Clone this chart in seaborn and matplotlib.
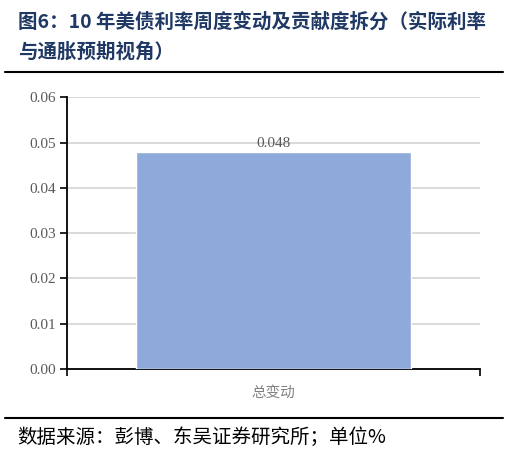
import matplotlib
matplotlib.use("Agg")
import matplotlib.pyplot as plt
import seaborn as sns
import pandas as pd
from matplotlib.lines import Line2D

categories = ["总变动"]
values = [0.048]
value_labels = ["0.048"]
yticks = [0.00, 0.01, 0.02, 0.03, 0.04, 0.05, 0.06]
ytick_labels = ["0.00", "0.01", "0.02", "0.03", "0.04", "0.05", "0.06"]
title_line1 = "图6：10 年美债利率周度变动及贡献度拆分（实际利率"
title_line2 = "与通胀预期视角）"
source_text = "数据来源：彭博、东吴证券研究所；单位%"

sns.set_theme(style="white")
plt.rcParams['font.family'] = ['Noto Sans CJK SC', 'DejaVu Sans']

df = pd.DataFrame({"cat": categories, "val": values})

fig = plt.figure(figsize=(5.10, 4.51), dpi=100)
ax = fig.add_axes([67/510, 1-369/451, (480-67)/510, (369-97.3)/451])

sns.barplot(data=df, x="cat", y="val", color="#8EAADB", width=0.667,
            saturation=1, ax=ax, zorder=3)

ax.set_xlim(-0.5, 0.5)
ax.set_ylim(0, 0.06)
ax.set_yticks(yticks)
ax.set_yticklabels(ytick_labels, family="Liberation Serif", fontsize=11, color="#595959")
ax.yaxis.grid(True, color="#d9d9d9", linewidth=1.4, zorder=0)
ax.set_axisbelow(True)

ax.set_xticks([0])
ax.set_xticklabels(categories, fontsize=10.5, color="#808080")
ax.set_xticks([-0.5, 0.5], minor=True)
ax.tick_params(axis="x", which="major", length=0, pad=12)
ax.tick_params(axis="x", which="minor", length=5, width=1.2, color="black", direction="out", bottom=True)
ax.tick_params(axis="y", which="major", length=5, width=1.2, color="black", direction="out", left=True, pad=3)
ax.set_xlabel("")
ax.set_ylabel("")

for s in ["top", "right"]:
    ax.spines[s].set_visible(False)
for s in ["left", "bottom"]:
    ax.spines[s].set_color("black")
    ax.spines[s].set_linewidth(1.3)

for cont in ax.containers:
    ax.bar_label(cont, labels=value_labels, padding=1, family="Liberation Serif",
                 fontsize=11, color="#595959")

navy = "#1F3864"
fig.text(18/510, 1-22/451, title_line1, fontsize=14, fontweight="bold", color=navy,
         va="center", ha="left")
fig.text(18/510, 1-52/451, title_line2, fontsize=14, fontweight="bold", color=navy,
         va="center", ha="left")
fig.add_artist(Line2D([5/510, 503/510], [1-72/451, 1-72/451], color="black", linewidth=1.5,
                      transform=fig.transFigure))
fig.add_artist(Line2D([5/510, 503/510], [1-418/451, 1-418/451], color="black", linewidth=1.5,
                      transform=fig.transFigure))
fig.text(17/510, 1-437/451, source_text, fontsize=14, color="black", va="center", ha="left")

fig.savefig("out.png", dpi=100)
